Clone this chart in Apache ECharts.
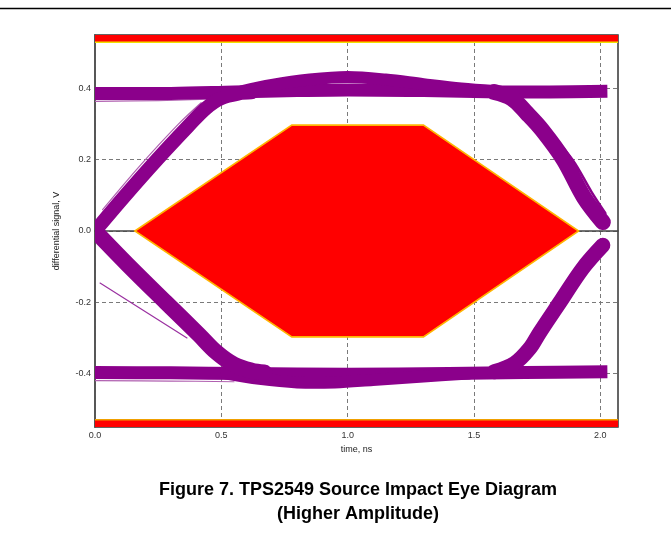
<!DOCTYPE html>
<html><head><meta charset="utf-8">
<script src="https://cdn.jsdelivr.net/npm/echarts@6/dist/echarts.min.js"></script>
<style>html,body{margin:0;padding:0;background:#fff}#c{width:671px;height:537px}</style>
</head><body><div id="c"></div>
<script>
// ---- axis ticks ----
const xTicks = [0, 0.5, 1.0, 1.5, 2.0];
const yTicks = [-0.4, -0.2, 0.0, 0.2, 0.4];

// ---- mask regions (time ns, volts) ----
const maskHexagon = [[0.158,0],[0.779,0.297],[1.300,0.297],[1.914,0],[1.300,-0.297],[0.779,-0.297]];
const maskTop = [[0,0.53],[2.07,0.53],[2.07,0.55],[0,0.55]];
const maskBottom = [[0,-0.53],[2.07,-0.53],[2.07,-0.55],[0,-0.55]];

// ---- eye traces (time ns, volts) ----
const upperRail  = [[-0.05,0.386],[0.3,0.386],[0.55,0.39],[0.8,0.394],[1.0,0.396],[1.3,0.394],[1.6,0.39],[1.8,0.39],[2.028,0.392]];
const upperBump  = [[0.58,0.392],[0.7,0.41],[0.85,0.425],[1.0,0.432],[1.15,0.425],[1.3,0.412],[1.45,0.40],[1.58,0.393]];
const lowerRail  = [[-0.05,-0.397],[0.3,-0.398],[0.6,-0.400],[1.0,-0.402],[1.4,-0.400],[1.7,-0.397],[2.028,-0.395]];
const lowerBump  = [[0.52,-0.40],[0.65,-0.415],[0.8,-0.425],[0.95,-0.425],[1.1,-0.418],[1.3,-0.408],[1.48,-0.40]];
const risingLeft = [[-0.04,-0.035],[0,0],[0.12,0.1],[0.245,0.2],[0.37,0.295],[0.44,0.345],[0.5,0.373],[0.57,0.386],[0.62,0.389]];
const fallingLeft= [[-0.04,0.03],[0,0],[0.13,-0.095],[0.28,-0.2],[0.41,-0.29],[0.48,-0.34],[0.55,-0.375],[0.62,-0.392],[0.67,-0.397]];
const fallingRight=[[1.58,0.39],[1.65,0.372],[1.71,0.33],[1.77,0.283],[1.855,0.2],[1.935,0.095],[2.01,0.025]];
const fallingRightStreak=[[1.69,0.365],[1.79,0.285],[1.89,0.2],[1.965,0.11],[2.02,0.05]];
const risingRight= [[1.58,-0.395],[1.66,-0.372],[1.72,-0.33],[1.76,-0.285],[1.84,-0.2],[1.93,-0.105],[2.01,-0.04]];
const strayTrace = [[0.02,-0.146],[0.364,-0.30]];
const upperEdgeStreak = [[0,0.364],[0.25,0.366],[0.45,0.37]];
const lowerEdgeStreak = [[0,-0.42],[0.3,-0.421],[0.55,-0.423]];
const risingLeftStreak = [[0.03,0.06],[0.18,0.185],[0.33,0.3],[0.42,0.36]];
const fallingLeftStreak = [[0.06,-0.02],[0.2,-0.12],[0.35,-0.225],[0.47,-0.31]];

const PURPLE = '#8b008b';
const LIGHT = '#b060b0';

const traces = [
  { data: upperEdgeStreak, w: 1.2, c: LIGHT },
  { data: lowerEdgeStreak, w: 1.2, c: LIGHT },
  { data: risingLeftStreak, w: 1.2, c: LIGHT },
  { data: fallingLeftStreak, w: 1.2, c: LIGHT },
  { data: upperRail, w: 13, cap: 'butt' },
  { data: upperBump, w: 12 },
  { data: lowerRail, w: 13, cap: 'butt' },
  { data: lowerBump, w: 12 },
  { data: risingLeft, w: 14 },
  { data: fallingLeft, w: 16 },
  { data: fallingRight, w: 16 },
  { data: fallingRightStreak, w: 2.5 },
  { data: risingRight, w: 15 },
  { data: strayTrace, w: 1.2, c: '#9a30a0' }
];

function polySeries(points, fill, stroke, edgeIdx) {
  return {
    type: 'custom', silent: true, z: 3,
    data: [0],
    renderItem: function (params, api) {
      const pts = points.map(p => api.coord(p));
      const children = [{
        type: 'polygon', shape: { points: pts },
        style: { fill: fill, stroke: edgeIdx ? null : stroke, lineWidth: 1.6 }
      }];
      if (edgeIdx) {
        children.push({
          type: 'polyline', shape: { points: [pts[edgeIdx[0]], pts[edgeIdx[1]]] },
          style: { stroke: stroke, lineWidth: 1.5, fill: null }
        });
      }
      return { type: 'group', children: children };
    }
  };
}

const traceSeries = {
  type: 'custom', silent: true, z: 4,
  data: traces.map((t, i) => i),
  renderItem: function (params, api) {
    const tr = traces[params.dataIndex];
    const cs = params.coordSys;
    return {
      type: 'polyline',
      shape: { points: tr.data.map(p => api.coord(p)), smooth: tr.data.length > 2 ? 0.35 : 0 },
      style: { stroke: tr.c || PURPLE, lineWidth: tr.w, fill: null, lineCap: tr.cap || 'round', lineJoin: 'round' },
      clipPath: { type: 'rect', shape: { x: cs.x, y: cs.y, width: cs.width, height: cs.height } }
    };
  }
};

const chart = echarts.init(document.getElementById('c'), null, { renderer: 'canvas' });
const FONT = 'Liberation Sans, Arial, sans-serif';
chart.setOption({
  animation: false,
  backgroundColor: '#fff',
  grid: { left: 95, right: 53, top: 35, bottom: 110, show: true, borderColor: '#333', borderWidth: 1.5, backgroundColor: 'transparent' },
  xAxis: {
    type: 'value', min: 0, max: 2.07,
    name: 'time, ns', nameLocation: 'middle', nameGap: 13,
    nameTextStyle: { fontFamily: FONT, fontSize: 9, color: '#222' },
    axisLine: { show: true, lineStyle: { color: '#444', width: 1.5 } },
    axisTick: { show: false, customValues: xTicks },
    axisLabel: { customValues: xTicks, fontFamily: FONT, fontSize: 9, color: '#333', margin: 4,
      formatter: v => v.toFixed(1) },
    splitLine: { show: true, lineStyle: { color: '#7a7a7a', type: [4, 3], width: 1 } }
  },
  yAxis: {
    type: 'value', min: -0.55, max: 0.55,
    name: 'differential signal, V', nameLocation: 'middle', nameGap: 34,
    nameTextStyle: { fontFamily: FONT, fontSize: 9, color: '#222' },
    axisLine: { show: true, lineStyle: { color: '#555', width: 1.8 } },
    axisTick: { show: false, customValues: yTicks },
    axisLabel: { customValues: yTicks, fontFamily: FONT, fontSize: 9, color: '#333', margin: 4,
      formatter: v => v.toFixed(1) },
    splitLine: { show: true, lineStyle: { color: '#7a7a7a', type: [4, 3], width: 1 } }
  },
  graphic: [
    { type: 'line', shape: { x1: 0, y1: 8.5, x2: 671, y2: 8.5 }, style: { stroke: '#000', lineWidth: 1.5 } },
    { type: 'text', x: 358, y: 478, style: {
        text: 'Figure 7. TPS2549 Source Impact Eye Diagram\n(Higher Amplitude)',
        font: 'bold 18px ' + FONT, fill: '#000', align: 'center', verticalAlign: 'top', lineHeight: 24 } }
  ],
  series: [
    polySeries(maskHexagon, '#ff0000', '#ffb400'),
    polySeries(maskTop, '#ff0000', '#f0e000', [0, 1]),
    polySeries(maskBottom, '#ff0000', '#f0a000', [0, 1]),
    traceSeries
  ]
});
</script></body></html>
